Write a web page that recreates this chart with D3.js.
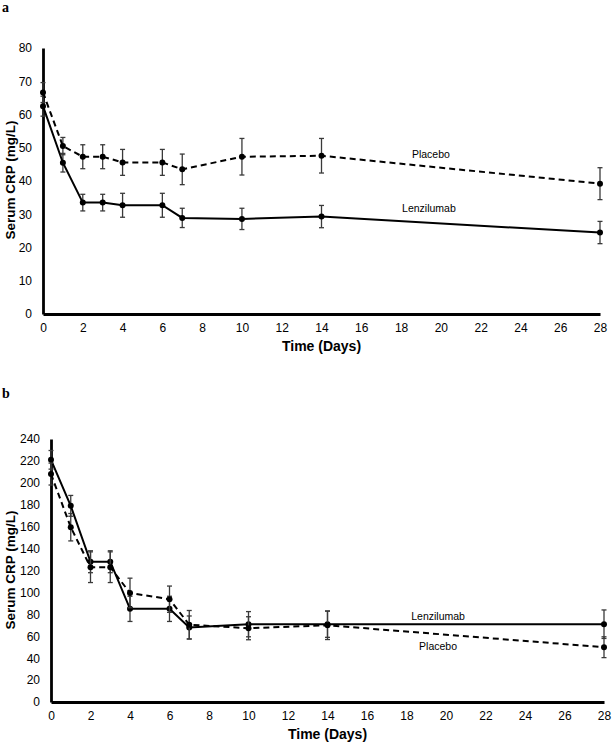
<!DOCTYPE html>
<html>
<head>
<meta charset="utf-8">
<script src="https://cdn.jsdelivr.net/npm/d3@7"></script>
<style>
  body { margin: 0; background: #fff; }
  svg { display: block; }
  text { font-family: "Liberation Sans", Arial, sans-serif; }
</style>
</head>
<body>
<svg id="chart" width="613" height="744"></svg>
<script>
// ---- data ----
const days = [0, 1, 2, 3, 4, 6, 7, 10, 14, 28];
const xTicks = [0, 2, 4, 6, 8, 10, 12, 14, 16, 18, 20, 22, 24, 26, 28];

const aLenzilumab    = [62.5, 45.5, 33.5, 33.5, 32.7, 32.7, 28.9, 28.6, 29.3, 24.5];
const aLenzilumabErr = [3.0, 2.8, 2.5, 2.5, 3.6, 3.6, 2.9, 3.2, 3.35, 3.35];
const aPlacebo       = [66.6, 50.5, 47.3, 47.3, 45.6, 45.6, 43.5, 47.3, 47.6, 39.2];
const aPlaceboErr    = [3.0, 2.6, 3.6, 3.6, 3.9, 3.9, 4.6, 5.5, 5.2, 4.8];
const aYTicks = [0, 10, 20, 30, 40, 50, 60, 70, 80];

const bLenzilumab    = [221, 179, 128, 128, 85, 85, 68, 71, 71, 71];
const bLenzilumabErr = [8.5, 9.5, 10, 10, 11.5, 11.5, 10.5, 11.5, 12, 13];
const bPlacebo       = [208, 159.5, 123, 123, 99.5, 93.8, 70.5, 67.3, 70, 50];
const bPlaceboErr    = [10, 12.5, 14, 14, 13.5, 12, 13, 10.5, 13, 9.5];
const bYTicks = [0, 20, 40, 60, 80, 100, 120, 140, 160, 180, 200, 220, 240];

const svg = d3.select("#chart");

function panel(cfg) {
  const x = d3.scaleLinear().domain([0, 28]).range([cfg.left, cfg.right]);
  const y = d3.scaleLinear().domain([0, cfg.ymax]).range([cfg.bottom, cfg.top]);
  const g = svg.append("g");

  // panel letter
  g.append("text").attr("x", 2).attr("y", cfg.letterY).text(cfg.letter)
    .style("font-family", "'Liberation Serif', 'DejaVu Serif', serif")
    .style("font-weight", "bold").style("font-size", "14px");

  // axes
  const xAxis = g.append("g").attr("transform", `translate(0,${cfg.bottom})`)
    .call(d3.axisBottom(x).tickValues(xTicks).tickSize(0).tickPadding(9));
  xAxis.select(".domain").attr("stroke", "#000").attr("stroke-width", 2.8);
  xAxis.selectAll("text").style("font-size", "12px").attr("fill", "#000");

  const yAxis = g.append("g").attr("transform", `translate(${cfg.left},0)`)
    .call(d3.axisLeft(y).tickValues(cfg.yTicks).tickSize(0).tickPadding(11));
  yAxis.select(".domain").attr("stroke", "#000").attr("stroke-width", 2.8);
  yAxis.selectAll("text").style("font-size", "12px").attr("fill", "#000");

  // axis titles
  g.append("text").attr("x", (cfg.left + cfg.right) / 2).attr("y", cfg.xTitleY)
    .attr("text-anchor", "middle").style("font-weight", "bold").style("font-size", "14px")
    .text("Time (Days)");
  g.append("text").attr("transform", `translate(${cfg.yTitleX},${cfg.yTitleCY}) rotate(-90)`)
    .attr("text-anchor", "middle").style("font-weight", "bold").style("font-size", "13.5px")
    .text("Serum CRP (mg/L)");

  const series = [
    { vals: cfg.lenz, err: cfg.lenzErr, dash: null },
    { vals: cfg.plac, err: cfg.placErr, dash: "6,4" }
  ];
  const line = d3.line().x(d => x(d.day)).y(d => y(d.v));

  series.forEach(s => {
    const pts = days.map((d, i) => ({ day: d, v: s.vals[i], e: s.err[i] }));
    // error bars
    const eb = g.append("g").attr("stroke", "#3a3a3a").attr("stroke-width", 1.3);
    eb.selectAll("line.v").data(pts).join("line")
      .attr("x1", d => x(d.day)).attr("x2", d => x(d.day))
      .attr("y1", d => y(d.v - d.e)).attr("y2", d => y(d.v + d.e));
    eb.selectAll("line.t").data(pts).join("line")
      .attr("x1", d => x(d.day) - 2.5).attr("x2", d => x(d.day) + 2.5)
      .attr("y1", d => y(d.v + d.e)).attr("y2", d => y(d.v + d.e));
    eb.selectAll("line.b").data(pts).join("line")
      .attr("x1", d => x(d.day) - 2.5).attr("x2", d => x(d.day) + 2.5)
      .attr("y1", d => y(d.v - d.e)).attr("y2", d => y(d.v - d.e));
    // line
    g.append("path").datum(pts).attr("d", line).attr("fill", "none")
      .attr("stroke", "#000").attr("stroke-width", 2)
      .attr("stroke-dasharray", s.dash);
    // markers
    g.selectAll(null).data(pts).join("circle")
      .attr("cx", d => x(d.day)).attr("cy", d => y(d.v)).attr("r", 3).attr("fill", "#000");
  });

  cfg.labels.forEach(l => {
    g.append("text").attr("x", x(l.day)).attr("y", y(l.v)).attr("text-anchor", "middle")
      .attr("dominant-baseline", "middle").style("font-size", "10.5px").text(l.text);
  });
}

panel({
  letter: "a", letterY: 12,
  left: 43, right: 600, top: 48, bottom: 314, ymax: 80, yTicks: aYTicks,
  lenz: aLenzilumab, lenzErr: aLenzilumabErr, plac: aPlacebo, placErr: aPlaceboErr,
  xTitleY: 351, yTitleX: 15, yTitleCY: 180,
  labels: [{ text: "Placebo", day: 19.5, v: 47.8 }, { text: "Lenzilumab", day: 19.4, v: 31.5 }]
});

panel({
  letter: "b", letterY: 398,
  left: 51, right: 604, top: 439, bottom: 702, ymax: 240, yTicks: bYTicks,
  lenz: bLenzilumab, lenzErr: bLenzilumabErr, plac: bPlacebo, placErr: bPlaceboErr,
  xTitleY: 739, yTitleX: 15, yTitleCY: 570,
  labels: [{ text: "Lenzilumab", day: 19.6, v: 77 }, { text: "Placebo", day: 19.6, v: 50 }]
});
</script>
</body>
</html>
